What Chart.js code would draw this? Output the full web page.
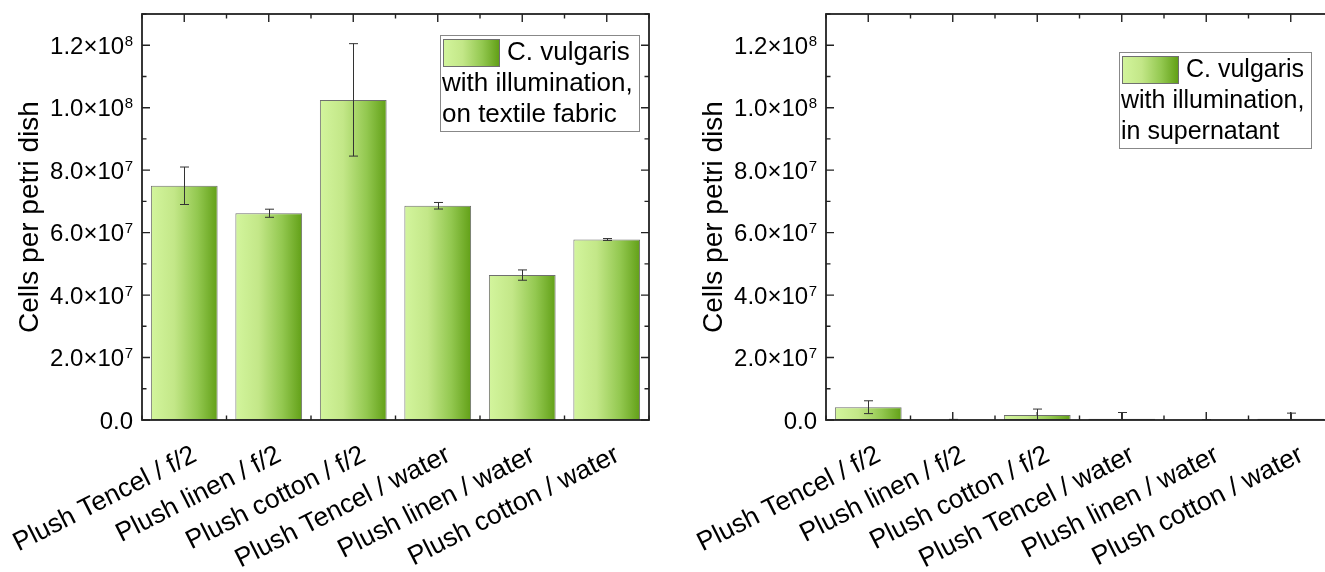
<!DOCTYPE html>
<html><head><meta charset="utf-8">
<script src="https://cdn.jsdelivr.net/npm/chart.js@4/dist/chart.umd.min.js"></script>
<style>
html,body{margin:0;padding:0;background:#fff;overflow:hidden;width:1325px;height:572px;position:relative;}
#wrapL{position:absolute;left:0;top:0;width:662px;height:572px;}
#wrapR{position:absolute;left:684px;top:0;width:662px;height:572px;}
</style></head><body>
<div id="wrapL"><canvas id="cL" width="662" height="572"></canvas></div>
<div id="wrapR"><canvas id="cR" width="662" height="572"></canvas></div>
<script>
const categories = ['Plush Tencel / f/2','Plush linen / f/2','Plush cotton / f/2','Plush Tencel / water','Plush linen / water','Plush cotton / water'];
const fabricValues = [7.50e7, 6.62e7, 1.025e8, 6.86e7, 4.64e7, 5.78e7];
const fabricErrors = [6.0e6, 1.3e6, 1.8e7, 1.05e6, 1.65e6, 3.0e5];
const supernatantValues = [4.1e6, 1.0e5, 1.6e6, 4.0e5, 5.0e4, 4.0e5];
const supernatantErrors = [2.05e6, 1.0e5, 1.9e6, 2.0e6, 5.0e4, 1.8e6];
const yTickValues = [0, 2e7, 4e7, 6e7, 8e7, 1e8, 1.2e8];
const yTickMantissas = ['0.0','2.0','4.0','6.0','8.0','1.0','1.2'];
const yTickExponents = ['','7','7','7','7','8','8'];
const yAxisTitle = 'Cells per petri dish';
const legendFabric = ['C. vulgaris','with illumination,','on textile fabric'];
const legendSupernatant = ['C. vulgaris','with illumination,','in supernatant'];

const FONT = '"Liberation Sans", Arial, sans-serif';
const BAR_PCT = 0.79;

function makeGradient(ctx, x0, x1) {
  const g = ctx.createLinearGradient(x0, 0, x1, 0);
  g.addColorStop(0, '#d3f59d');
  g.addColorStop(0.35, '#c3e788');
  g.addColorStop(0.7, '#93c850');
  g.addColorStop(1, '#62a017');
  return g;
}
function barFill(context) {
  const chart = context.chart;
  const xs = chart.scales.x;
  if (!chart.chartArea || !xs) return '#a8d66a';
  const cx = xs.getPixelForValue(context.dataIndex);
  const half = (chart.chartArea.width / categories.length) * BAR_PCT / 2;
  return makeGradient(chart.ctx, cx - half, cx + half);
}

const framePlugin = {
  id: 'frame',
  beforeDatasetsDraw(chart) {
    const ctx = chart.ctx, ys = chart.scales.y, a = chart.chartArea;
    ctx.save();
    ctx.strokeStyle = '#222';
    ctx.lineWidth = 1.4;
    for (let k = 0; k <= 13; k++) {
      const y = ys.getPixelForValue(k * 1e7);
      const len = (k % 2 === 0) ? 8 : 4.5;
      ctx.beginPath();
      ctx.moveTo(a.left, y); ctx.lineTo(a.left + len, y);
      ctx.moveTo(a.right, y); ctx.lineTo(a.right - len, y);
      ctx.stroke();
    }
    const n = categories.length, cw = a.width / n;
    for (let i = 0; i <= n; i++) {
      const xb = a.left + i * cw;
      ctx.beginPath();
      ctx.moveTo(xb, a.top); ctx.lineTo(xb, a.top + 4.5);
      ctx.moveTo(xb, a.bottom); ctx.lineTo(xb, a.bottom - 4.5);
      ctx.stroke();
      if (i < n) {
        const xc = xb + cw / 2;
        ctx.beginPath();
        ctx.moveTo(xc, a.top); ctx.lineTo(xc, a.top + 8);
        ctx.moveTo(xc, a.bottom); ctx.lineTo(xc, a.bottom - 8);
        ctx.stroke();
      }
    }
    ctx.restore();
  },
  afterDatasetsDraw(chart, args, opts) {
    const ctx = chart.ctx, xs = chart.scales.x, ys = chart.scales.y, a = chart.chartArea;
    const values = chart.data.datasets[0].data;
    // error bars
    ctx.save();
    ctx.beginPath(); ctx.rect(a.left, a.top, a.width, a.height); ctx.clip();
    ctx.strokeStyle = '#333'; ctx.lineWidth = 1;
    values.forEach((v, i) => {
      const e = opts.errors[i];
      const x = Math.round(xs.getPixelForValue(i)) + 0.5;
      const yt = ys.getPixelForValue(v + e), yb = ys.getPixelForValue(v - e);
      ctx.beginPath();
      ctx.moveTo(x, yt); ctx.lineTo(x, yb);
      ctx.moveTo(x - 4.5, yt); ctx.lineTo(x + 4.5, yt);
      ctx.moveTo(x - 4.5, yb); ctx.lineTo(x + 4.5, yb);
      ctx.stroke();
    });
    ctx.restore();
    // frame
    ctx.save();
    ctx.strokeStyle = '#222'; ctx.lineWidth = 1.8;
    ctx.strokeRect(a.left, a.top, a.width, a.height);
    ctx.restore();
    // y tick labels
    ctx.save();
    ctx.fillStyle = '#000';
    ctx.textBaseline = 'alphabetic';
    ctx.textAlign = 'right';
    yTickValues.forEach((v, i) => {
      const y = ys.getPixelForValue(v);
      let x = a.left - 9;
      const exp = yTickExponents[i];
      if (exp) {
        ctx.font = '15px ' + FONT;
        ctx.fillText(exp, x, y + 0.5);
        x -= ctx.measureText(exp).width + 0.5;
      }
      ctx.font = '24px ' + FONT;
      ctx.fillText(yTickMantissas[i] + (exp ? '\u00d710' : ''), x, y + 8.5);
    });
    ctx.restore();
    // x labels
    ctx.save();
    ctx.fillStyle = '#000';
    ctx.font = '26.5px ' + FONT;
    ctx.textAlign = 'right';
    ctx.textBaseline = 'alphabetic';
    categories.forEach((c, i) => {
      const x = xs.getPixelForValue(i);
      ctx.save();
      ctx.translate(x + 14, a.bottom + 40);
      ctx.rotate(-27 * Math.PI / 180);
      ctx.fillText(c, 0, 0);
      ctx.restore();
    });
    ctx.restore();
    // legend
    ctx.save();
    const bx = a.left + opts.legendDX, by = opts.legendY, bw = opts.legendW, bh = 96;
    ctx.fillStyle = '#fff';
    ctx.fillRect(bx, by, bw, bh);
    ctx.strokeStyle = '#888'; ctx.lineWidth = 1;
    ctx.strokeRect(bx + 0.5, by + 0.5, bw, bh);
    ctx.fillStyle = makeGradient(ctx, bx + 3, bx + 59);
    ctx.fillRect(bx + 3, by + 4, 56, 27);
    ctx.strokeStyle = '#6f6f6f';
    ctx.strokeRect(bx + 3.5, by + 4.5, 56, 27);
    ctx.fillStyle = '#000';
    ctx.font = opts.legendFont + 'px ' + FONT;
    ctx.textAlign = 'left';
    ctx.textBaseline = 'alphabetic';
    const L = opts.legendLines;
    ctx.fillText(L[0], bx + 67, by + 25);
    ctx.fillText(L[1], bx + 2, by + 56);
    ctx.fillText(L[2], bx + 2, by + 87);
    ctx.restore();
  }
};

function makeChart(id, values, errors, legendLines, legendDX, legendY, legendW, legendFont) {
  return new Chart(document.getElementById(id), {
    type: 'bar',
    data: {
      labels: categories,
      datasets: [{
        data: values,
        backgroundColor: barFill,
        borderColor: '#6f6f6f',
        borderWidth: 1,
        borderSkipped: false,
        barPercentage: BAR_PCT,
        categoryPercentage: 1
      }]
    },
    options: {
      responsive: false,
      animation: false,
      devicePixelRatio: 1,
      layout: { padding: { left: 0, right: 13, top: 14, bottom: 0 } },
      plugins: {
        legend: { display: false },
        tooltip: { enabled: false },
        frame: { errors, legendLines, legendDX, legendY, legendW, legendFont }
      },
      scales: {
        x: {
          type: 'category',
          grid: { display: false },
          border: { display: false },
          ticks: { display: false },
          afterFit(s) { s.height = 152; }
        },
        y: {
          min: 0, max: 1.3e8,
          grid: { display: false },
          border: { display: false },
          ticks: { display: false, stepSize: 1e7 },
          title: { display: true, text: yAxisTitle, color: '#000', font: { family: FONT, size: 28 }, padding: { top: 13, bottom: 0 } },
          afterFit(s) { s.width = 142; }
        }
      }
    },
    plugins: [framePlugin]
  });
}

makeChart('cL', fabricValues, fabricErrors, legendFabric, 298, 35, 199, 26);
makeChart('cR', supernatantValues, supernatantErrors, legendSupernatant, 293, 52, 192, 25);
</script>
</body></html>
